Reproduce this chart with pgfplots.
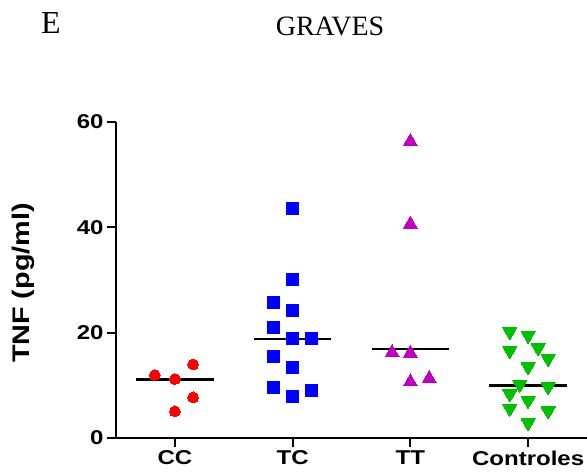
\documentclass[border=0pt]{standalone}
\usepackage{pgfplots}
\pgfplotsset{compat=1.18}
\usepackage{fontspec}
\setmainfont{Liberation Serif}
\newfontfamily\arialb{Liberation Sans}[FakeStretch=1.2]
\definecolor{cred}{RGB}{255,0,0}
\definecolor{cblue}{RGB}{0,0,255}
\definecolor{cmag}{RGB}{192,0,192}
\definecolor{cgreen}{RGB}{0,192,0}
\begin{document}
\begin{tikzpicture}[x=1bp,y=1bp]
\path[use as bounding box] (0,0) rectangle (587,472);
\begin{axis}[
  at={(116bp,34bp)}, anchor=south west,
  scale only axis, width=471bp, height=316bp,
  xmin=-0.5, xmax=3.5, ymin=0, ymax=60,
  axis x line*=bottom, axis y line*=left,
  axis line style={line width=2bp, black},
  tick style={line width=2bp, black},
  tick align=outside, major tick length=9bp,
  xtick={0,1,2,3}, xticklabels={CC,TC,TT,Controles},
  ytick={0,20,40,60},
  /pgf/number format/assume math mode=true,
  ticklabel style={font=\arialb\bfseries\fontsize{20bp}{24bp}\selectfont},
  ylabel={TNF (pg/ml)},
  every axis y label/.style={at={(axis description cs:0,0.5)}, xshift=-93bp, yshift=-3bp, rotate=90, anchor=center,
    font=\arialb\bfseries\fontsize{24bp}{28bp}\selectfont},
  clip=false,
]
% CC
\addplot[only marks, mark=*, mark size=5.4bp, color=cred, mark options={line width=0pt}] coordinates {
(-0.17,11.95) (0,11.19) (0.155,13.97) (0.155,7.71) (0,5.06)};
% TC
\addplot[only marks, mark=square*, mark size=6bp, color=cblue, mark options={line width=0pt}] coordinates {
(1,43.6) (1,30.0) (0.835,25.8) (1,24.3) (0.835,20.9) (1,18.8) (1.157,18.8)
(0.835,15.4) (1,13.4) (0.835,9.5) (1.157,9.1) (1,7.9)};
% TT
\addplot[only marks, mark=triangle*, mark size=8bp, color=cmag, mark options={line width=0pt, yshift=-2bp}] coordinates {
(2,56.7) (2,41.0) (1.845,16.6) (2,16.5) (2,11.06) (2.16,11.7)};
% Controles
\addplot[only marks, mark=triangle*, mark size=8bp, color=cgreen, mark options={line width=0pt, yshift=2bp, rotate=180}] coordinates {
(2.844,19.8) (3.0,19.1) (2.844,16.2) (3.085,16.75) (3.17,14.7) (3.0,13.15)
(2.929,9.8) (3.17,9.35) (2.844,8.0) (3.0,6.75) (2.844,5.25) (3.17,4.75) (3.0,2.5)};
% medians
\addplot[black, line width=2.8bp, no marks] coordinates {(-0.33,11.1) (0.33,11.1)};
\addplot[black, line width=2.8bp, no marks] coordinates {(0.67,18.8) (1.33,18.8)};
\addplot[black, line width=2.8bp, no marks] coordinates {(1.67,16.9) (2.33,16.9)};
\addplot[black, line width=2.8bp, no marks] coordinates {(2.67,10.0) (3.33,10.0)};
\end{axis}
\node[font=\fontsize{32bp}{36bp}\selectfont, anchor=base west, inner sep=0pt] at (41,438) {E};
\node[font=\fontsize{28bp}{32bp}\selectfont, anchor=base, inner sep=0pt] at (330,436) {GRAVES};
\end{tikzpicture}
\end{document}
